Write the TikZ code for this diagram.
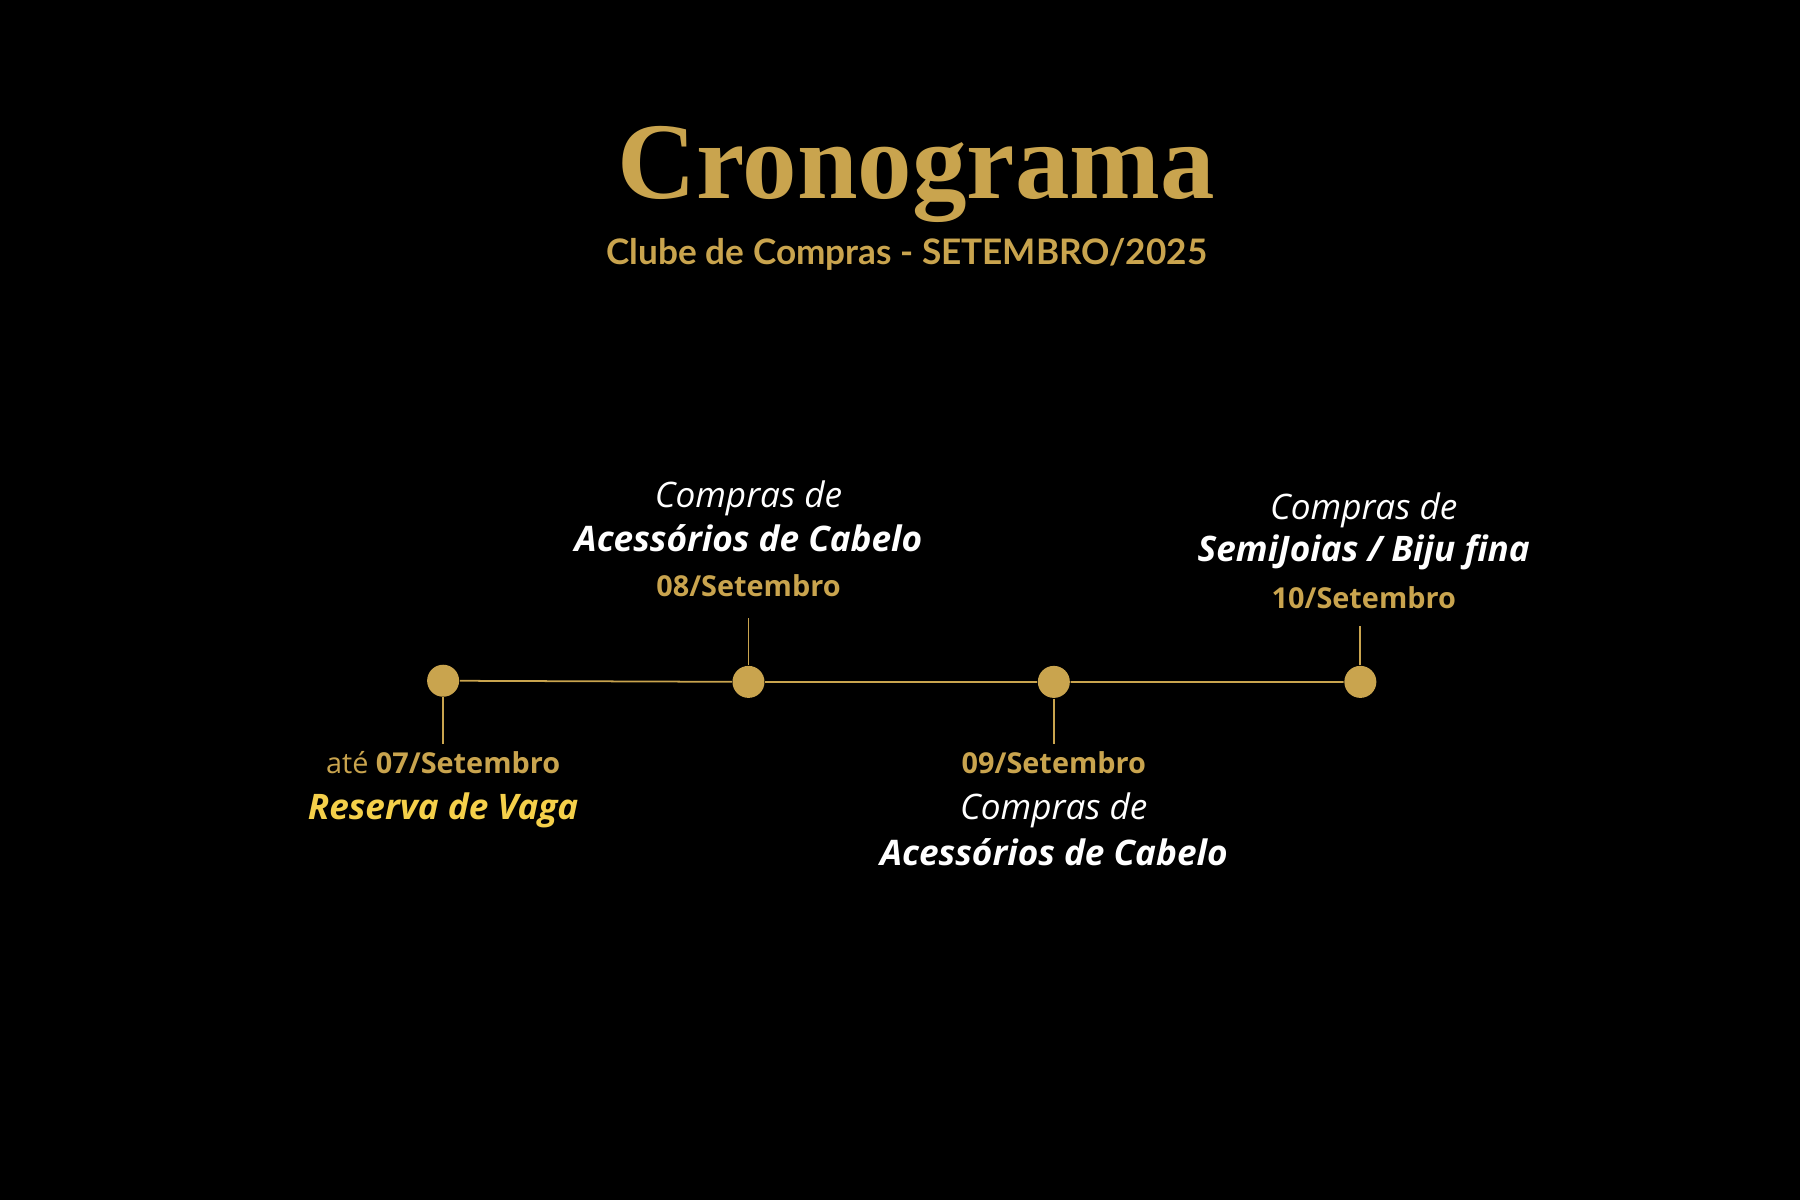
\documentclass[tikz,border=0pt]{standalone}
\usepackage{fontspec}
\setmainfont{Open Sans}
\newfontfamily\titlefont{Liberation Serif}
\newfontfamily\subfont{Lato}
\definecolor{gold}{HTML}{C9A44E}
\definecolor{yel}{HTML}{F5D04A}
\begin{document}
\begin{tikzpicture}[x=0.01148cm,y=-0.01148cm,
  dot/.style={circle,fill=gold,inner sep=0pt,minimum size=0.32cm},
  date/.style={text=gold,font=\fontsize{8.2}{10}\selectfont\bfseries},
  lab/.style={text=white,font=\fontsize{10}{12}\selectfont\itshape,align=center},
  tick/.style={draw=gold,line width=0.5pt}]
\fill[black] (0,0) rectangle (1568,1045);
\node[text=gold,font=\fontsize{31}{36}\selectfont\titlefont\bfseries] (t) at (798,152) {Cronograma};
\node[text=gold,font=\fontsize{10}{12}\selectfont\subfont\bfseries] (s) at (790,222) {Clube de Compras - SETEMBRO/2025};
\node[dot] (d1) at (386,593) {};
\node[dot] (d2) at (652,594) {};
\node[dot] (d3) at (918,594) {};
\node[dot] (d4) at (1185,594) {};
\draw[tick] (d1)--(d2)--(d3)--(d4);
\coordinate (c1) at (386,648); \coordinate (c2) at (652,538);
\coordinate (c3) at (918,648); \coordinate (c4) at (1185,545);
\draw[tick] (d1)--(c1); \draw[tick] (d2)--(c2); \draw[tick] (d3)--(c3); \draw[tick] (d4)--(c4);
\node[date] (a1) at (386,664) {{\mdseries até} 07/Setembro};
\node[text=yel,font=\fontsize{10}{12}\selectfont\bfseries\itshape] (b1) at (386,706) {Reserva de Vaga};
\node[date] (a2) at (652,510) {08/Setembro};
\node[lab] (b2) at (652,434) {Compras de};
\node[lab,font=\fontsize{10}{12}\selectfont\bfseries\itshape] (e2) at (652,469) {Acessórios de Cabelo};
\node[date] (a3) at (918,664) {09/Setembro};
\node[lab] (b3) at (918,706) {Compras de};
\node[lab,font=\fontsize{10}{12}\selectfont\bfseries\itshape] (e3) at (918,742) {Acessórios de Cabelo};
\node[lab] (b4) at (1188,445) {Compras de};
\node[lab,font=\fontsize{10}{12}\selectfont\bfseries\itshape] (e4) at (1188,481) {SemiJoias / Biju fina};
\node[date] (a4) at (1188,521) {10/Setembro};
\end{tikzpicture}
\end{document}
